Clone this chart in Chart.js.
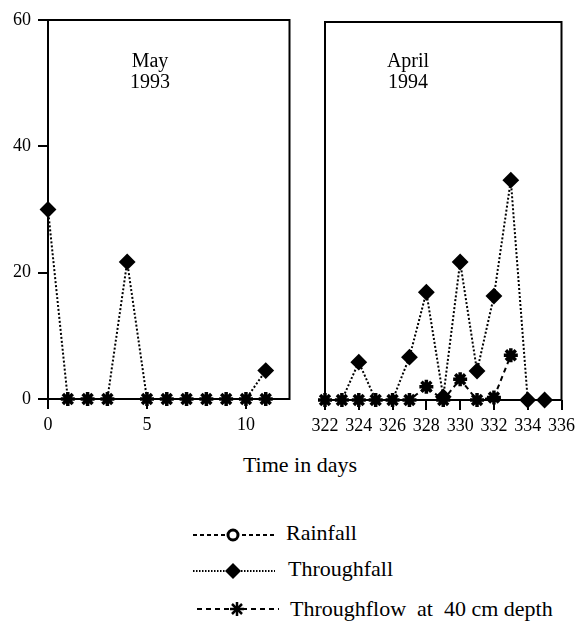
<!DOCTYPE html>
<html>
<head>
<meta charset="utf-8">
<script src="https://cdn.jsdelivr.net/npm/chart.js@4.4.0/dist/chart.umd.min.js"></script>
<style>
  body { margin: 0; background: #fff; }
  #wrap { position: relative; width: 580px; height: 633px; font-family: "Liberation Serif", serif; color: #000; }
  .abs { position: absolute; }
  .note { font-size: 20px; line-height: 21px; text-align: center; width: 100px; }
  .lbl { font-size: 22px; line-height: 22px; white-space: pre; }
</style>
</head>
<body>
<div id="wrap">
  <canvas id="may" class="abs" width="300" height="440" style="left:0;top:0"></canvas>
  <canvas id="april" class="abs" width="280" height="440" style="left:300px;top:0"></canvas>

  <div class="abs note" style="left:100px;top:50px">May<br>1993</div>
  <div class="abs note" style="left:358px;top:50px">April<br>1994</div>

  <div class="abs" style="left:0;top:454px;width:600px;text-align:center;font-size:22px;line-height:22px">Time in days</div>

  <svg class="abs" style="left:193px;top:525px" width="82" height="20">
    <line x1="0" y1="10" x2="82" y2="10" stroke="#000" stroke-width="2" stroke-dasharray="4,3"/>
    <circle cx="40" cy="10" r="5" fill="#fff" stroke="#000" stroke-width="3"/>
  </svg>
  <div class="abs lbl" style="left:286px;top:522px">Rainfall</div>

  <svg class="abs" style="left:193px;top:561px" width="82" height="20">
    <line x1="0" y1="10" x2="82" y2="10" stroke="#000" stroke-width="2" stroke-dasharray="1.5,1.5"/>
    <polygon points="40,2 48,10 40,18 32,10" fill="#000"/>
  </svg>
  <div class="abs lbl" style="left:288px;top:558px">Throughfall</div>

  <svg class="abs" style="left:197px;top:599px" width="82" height="20">
    <line x1="0" y1="10" x2="82" y2="10" stroke="#000" stroke-width="2" stroke-dasharray="5,4"/>
    <g stroke="#000" stroke-width="2.5">
      <line x1="40" y1="3" x2="40" y2="17"/><line x1="33" y1="10" x2="47" y2="10"/>
      <line x1="35" y1="5" x2="45" y2="15"/><line x1="45" y1="5" x2="35" y2="15"/>
    </g>
  </svg>
  <div class="abs lbl" style="left:290px;top:598px">Throughflow  at  40 cm depth</div>
</div>

<script>
// May 1993 (days 0-11)
const mayDays = [0, 1, 2, 3, 4, 5, 6, 7, 8, 9, 10, 11];
const mayThroughfall = [30, 0, 0, 0, 21.7, 0, 0, 0, 0, 0, 0, 4.5];
const mayFlowDays = [1, 2, 3, 5, 6, 7, 8, 9, 10, 11];
const mayThroughflow = [0, 0, 0, 0, 0, 0, 0, 0, 0, 0];

// April 1994 (days 322-335)
const aprDays = [322, 323, 324, 325, 326, 327, 328, 329, 330, 331, 332, 333, 334, 335];
const aprThroughfall = [0, 0, 6, 0, 0, 6.8, 17.1, 0.5, 21.9, 4.6, 16.5, 34.9, 0, 0];
const aprFlowDays = [322, 323, 324, 325, 326, 327, 328, 329, 330, 331, 332, 333];
const aprThroughflow = [0, 0, 0, 0, 0, 0, 2.1, 0, 3.3, 0, 0.4, 7.1];

// no rainfall points appear on the plot, only in the key
const rainfall = [];

const yTicks = [0, 20, 40, 60];
const mayXTicks = [0, 5, 10];
const aprXTicks = [322, 324, 326, 328, 330, 332, 334, 336];

const serif = { family: 'Liberation Serif', size: 18 };

function pts(xs, ys) {
    return xs.map((x, i) => ({ x: x, y: ys[i] }));
}

const frame = {
    id: 'frame',
    beforeDatasetsDraw(chart) {
        const a = chart.chartArea;
        const ctx = chart.ctx;
        ctx.save();
        ctx.strokeStyle = '#000';
        ctx.lineWidth = 2;
        ctx.strokeRect(a.left, a.top, a.right - a.left, a.bottom - a.top);
        ctx.restore();
    }
};

function datasets(fallX, fallY, flowX, flowY) {
    return [
        {
            label: 'Throughflow at 40 cm depth',
            data: pts(flowX, flowY),
            clip: false,
            borderColor: '#000',
            backgroundColor: '#000',
            borderWidth: 2,
            borderDash: [5, 4],
            pointStyle: 'star',
            pointRadius: 7,
            pointBorderWidth: 3.5
        },
        {
            label: 'Throughfall',
            data: pts(fallX, fallY),
            clip: false,
            borderColor: '#000',
            backgroundColor: '#000',
            borderWidth: 2,
            borderDash: [2, 2],
            pointStyle: 'rectRot',
            // a zero day that also has a throughflow star only shows the star
            pointRadius: c => (c.raw && c.raw.y === 0 && flowX.includes(c.raw.x)) ? 0 : 7
        },
        {
            label: 'Rainfall',
            data: rainfall,
            borderColor: '#000',
            backgroundColor: '#fff',
            borderWidth: 2,
            borderDash: [4, 3],
            pointStyle: 'circle',
            pointRadius: 5
        }
    ];
}

function xScale(lo, hi, tickList, axisHeight) {
    return {
        type: 'linear',
        min: lo,
        max: hi,
        afterBuildTicks: s => { s.ticks = tickList.map(v => ({ value: v })); },
        afterFit: s => { s.height = axisHeight; },
        grid: { drawOnChartArea: false, drawTicks: true, tickLength: 10, color: '#000', lineWidth: 2 },
        border: { display: false },
        ticks: { color: '#000', font: serif, padding: 5, maxRotation: 0, autoSkip: false }
    };
}

function yScale(show) {
    return {
        display: show,
        min: 0,
        max: 60,
        afterBuildTicks: s => { s.ticks = yTicks.map(v => ({ value: v })); },
        afterFit: s => { s.width = show ? 48 : 0; },
        grid: { drawOnChartArea: false, drawTicks: true, tickLength: 10, color: '#000', lineWidth: 2 },
        border: { display: false },
        ticks: { color: '#000', font: serif, padding: 7 }
    };
}

const common = {
    responsive: false,
    animation: false,
    plugins: { legend: { display: false }, tooltip: { enabled: false } }
};

new Chart(document.getElementById('may'), {
    type: 'line',
    data: { datasets: datasets(mayDays, mayThroughfall, mayFlowDays, mayThroughflow) },
    options: Object.assign({}, common, {
        layout: { padding: { top: 20, right: 8, left: 0, bottom: 0 } },
        scales: {
            x: xScale(0, 12.2, mayXTicks, 41),
            y: yScale(true)
        }
    }),
    plugins: [frame]
});

new Chart(document.getElementById('april'), {
    type: 'line',
    data: { datasets: datasets(aprDays, aprThroughfall, aprFlowDays, aprThroughflow) },
    options: Object.assign({}, common, {
        layout: { padding: { top: 22, right: 14, left: 25, bottom: 0 } },
        scales: {
            x: xScale(322, 336, aprXTicks, 40),
            y: yScale(false)
        }
    }),
    plugins: [frame]
});
</script>
</body>
</html>
